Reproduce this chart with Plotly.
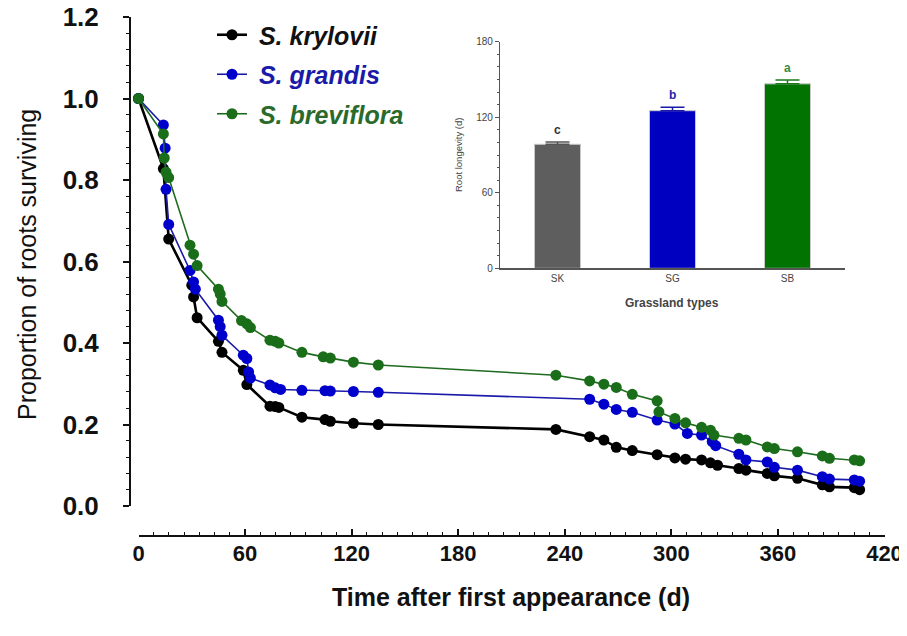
import plotly.graph_objects as go

# ---------------- data ----------------
sk_day = [0, 14, 17, 30, 31, 33, 45, 47, 59, 61, 74, 77, 79, 92, 105, 108, 121, 135, 235, 254, 262,
          269, 278, 292, 302, 308, 317, 322, 326, 338, 342, 354, 358, 371, 385, 389, 403, 406]
sk_prop = [1.0, 0.828, 0.655, 0.542, 0.513, 0.462, 0.404, 0.377, 0.333, 0.298, 0.245, 0.244, 0.242,
           0.218, 0.212, 0.208, 0.203, 0.200, 0.188, 0.170, 0.162, 0.144, 0.136, 0.126, 0.118, 0.115,
           0.113, 0.106, 0.100, 0.092, 0.088, 0.080, 0.074, 0.068, 0.052, 0.047, 0.045, 0.040]

sg_day = [0, 14, 15, 15.5, 17, 29, 31, 32, 45, 46, 47, 59, 61, 62, 63, 74, 77, 80, 92, 105, 108, 121,
          135, 254, 262, 269, 278, 292, 302, 309, 317, 323, 325, 338, 342, 354, 358, 371, 385, 389, 403, 406]
sg_prop = [1.0, 0.935, 0.878, 0.777, 0.691, 0.578, 0.550, 0.532, 0.456, 0.440, 0.419, 0.370, 0.362,
           0.329, 0.314, 0.297, 0.290, 0.286, 0.284, 0.283, 0.282, 0.281, 0.279, 0.262, 0.250, 0.237,
           0.230, 0.211, 0.201, 0.178, 0.174, 0.158, 0.148, 0.127, 0.113, 0.108, 0.095, 0.088, 0.072,
           0.066, 0.064, 0.061]

sb_day = [0, 14, 14.5, 15.5, 17, 29, 31, 33, 45, 46, 47, 58, 61, 63, 74, 77, 79, 92, 104, 108, 121, 135,
          235, 254, 262, 269, 278, 292, 293, 302, 308, 317, 322, 324, 338, 342, 354, 358, 371, 385, 389,
          403, 406]
sb_prop = [1.0, 0.913, 0.854, 0.819, 0.806, 0.640, 0.618, 0.590, 0.532, 0.520, 0.502, 0.455, 0.447,
           0.438, 0.407, 0.404, 0.400, 0.377, 0.366, 0.363, 0.353, 0.346, 0.321, 0.307, 0.299, 0.291,
           0.274, 0.258, 0.231, 0.215, 0.204, 0.193, 0.186, 0.174, 0.166, 0.162, 0.145, 0.141, 0.133,
           0.123, 0.117, 0.113, 0.111]

series_names = ["S. krylovii", "S. grandis", "S. breviflora"]

x_ticks = [0, 60, 120, 180, 240, 300, 360, 420]
y_ticks = [0.0, 0.2, 0.4, 0.6, 0.8, 1.0, 1.2]

inset_types = ["SK", "SG", "SB"]
inset_longevity = [98.5, 125.2, 146.5]
inset_se = [1.8, 2.7, 3.0]
inset_letters = ["c", "b", "a"]
inset_ticks = [0, 60, 120, 180]

# ---------------- styles ----------------
# page body has an 8px margin: figure starts at (8, 8) in the 907x636 window
OFF = 8
W, H = 907 - OFF, 636 - OFF
FONT = "Liberation Sans, Arial, sans-serif"
line_cols = ["#000000", "#1a1aaa", "#1f6b1f"]
mark_cols = ["#000000", "#0000cc", "#1a6e1a"]
text_cols = ["#111111", "#1a1aa8", "#2a6a2a"]
line_w = [2.6, 1.6, 1.6]
bar_cols = ["#5e5e5e", "#0000c0", "#007300"]
err_cols = ["#555555", "#1a1aaa", "#1a7a1a"]
letter_cols = ["#333333", "#2222aa", "#3a8a3a"]


def px_x(p):
    return (p - OFF) / W


def px_y(p):
    return 1 - (p - OFF) / H


fig = go.Figure()

for d, p, nm, lc, mc, tc, lw in zip([sk_day, sg_day, sb_day], [sk_prop, sg_prop, sb_prop],
                                    series_names, line_cols, mark_cols, text_cols, line_w):
    fig.add_trace(go.Scatter(
        x=d, y=p, mode="lines+markers",
        name=f"<b><i><span style='color:{tc}'>&nbsp;{nm}</span></i></b>",
        legendgroup=nm,
        line=dict(color=lc, width=lw),
        marker=dict(color=mc, size=11, line=dict(width=0)),
        cliponaxis=False,
        xaxis="x", yaxis="y",
    ))

# inset bars
for cat, v, e, bc, ec in zip(inset_types, inset_longevity, inset_se, bar_cols, err_cols):
    fig.add_trace(go.Bar(
        x=[cat], y=[v],
        marker=dict(color=bc, line=dict(color="#c8c8c8", width=1)),
        width=0.4,
        error_y=dict(type="data", array=[e], arrayminus=[0], symmetric=False,
                     color=ec, thickness=1.5, width=12),
        showlegend=False, xaxis="x2", yaxis="y2",
    ))

annotations = []
for cat, v, e, lt, col in zip(inset_types, inset_longevity, inset_se, inset_letters, letter_cols):
    annotations.append(dict(x=cat, y=v + e, xref="x2", yref="y2", text=f"<b>{lt}</b>",
                            showarrow=False, yanchor="bottom", yshift=3,
                            font=dict(family=FONT, size=12, color=col)))

# axis titles
annotations.append(dict(x=px_x(511), y=px_y(597), xref="paper", yref="paper",
                        xanchor="center", yanchor="middle",
                        text="<b>Time after first appearance (d)</b>", showarrow=False,
                        font=dict(family=FONT, size=25, color="#111111")))
annotations.append(dict(x=px_x(27), y=px_y(265), xref="paper", yref="paper",
                        xanchor="center", yanchor="middle",
                        text="Proportion of roots surviving", showarrow=False, textangle=-90,
                        font=dict(family=FONT, size=25, color="#111111")))
annotations.append(dict(x=px_x(672), y=px_y(303), xref="paper", yref="paper",
                        xanchor="center", yanchor="middle",
                        text="<b>Grassland types</b>", showarrow=False,
                        font=dict(family=FONT, size=12, color="#444444")))
annotations.append(dict(x=px_x(458), y=px_y(155), xref="paper", yref="paper",
                        xanchor="center", yanchor="middle",
                        text="Root longevity (d)", showarrow=False, textangle=-90,
                        font=dict(family=FONT, size=9.5, color="#444444")))

fig.update_layout(
    width=W, height=H,
    margin=dict(l=0, r=0, t=0, b=0, autoexpand=False),
    paper_bgcolor="white", plot_bgcolor="white",
    font=dict(family=FONT, color="#111111"),
    xaxis=dict(
        domain=[px_x(138.5), px_x(884.5)], range=[0, 420], anchor="free", position=px_y(536),
        showline=True, linecolor="#111111", linewidth=2, showgrid=False, zeroline=False,
        tickmode="array", tickvals=x_ticks, ticktext=[f"<b>{v}</b>" for v in x_ticks],
        ticks="inside", ticklen=6, tickwidth=1.5, tickcolor="#111111",
        tickfont=dict(family=FONT, size=22, color="#111111"), ticklabelstandoff=-2,
        ticklabeloverflow="allow",
        minor=dict(dtick=60 / 7, tick0=0, ticks="inside", ticklen=3.5, tickwidth=1.2,
                   tickcolor="#111111", showgrid=False),
    ),
    yaxis=dict(
        domain=[px_y(506), px_y(17)], range=[0, 1.2], anchor="free", position=px_x(130),
        showline=True, linecolor="#111111", linewidth=2, showgrid=False, zeroline=False,
        tickmode="array", tickvals=y_ticks, ticktext=[f"<b>{v:.1f}</b>" for v in y_ticks],
        ticks="outside", ticklen=6, tickwidth=1.5, tickcolor="#111111",
        tickfont=dict(family=FONT, size=26, color="#111111"), ticklabelstandoff=19,
        ticklabeloverflow="allow",
        minor=dict(dtick=0.04, tick0=0, ticks="outside", ticklen=3.5, tickwidth=1.2,
                   tickcolor="#111111", showgrid=False),
    ),
    xaxis2=dict(
        domain=[px_x(500), px_x(845)], range=[-0.5, 2.5], anchor="y2",
        showline=True, linecolor="#555555", linewidth=2, showgrid=False, zeroline=False,
        ticks="", tickfont=dict(family=FONT, size=10, color="#444444"),
    ),
    yaxis2=dict(
        domain=[px_y(268.3), px_y(41.7)], range=[0, 180], anchor="x2",
        showline=True, linecolor="#555555", linewidth=1.2, showgrid=False, zeroline=False,
        tickmode="array", tickvals=inset_ticks,
        ticks="outside", ticklen=4, tickwidth=1, tickcolor="#555555",
        tickfont=dict(family=FONT, size=10, color="#444444"),
        minor=dict(dtick=10, ticks="outside", ticklen=2, tickwidth=0.8, tickcolor="#555555",
                   showgrid=False),
    ),
    legend=dict(x=px_x(212), y=px_y(12), xanchor="left", yanchor="top",
                bgcolor="rgba(0,0,0,0)", font=dict(family=FONT, size=25),
                tracegroupgap=4, itemsizing="trace"),
    annotations=annotations,
    barmode="overlay",
)

fig.write_html("out.html")
